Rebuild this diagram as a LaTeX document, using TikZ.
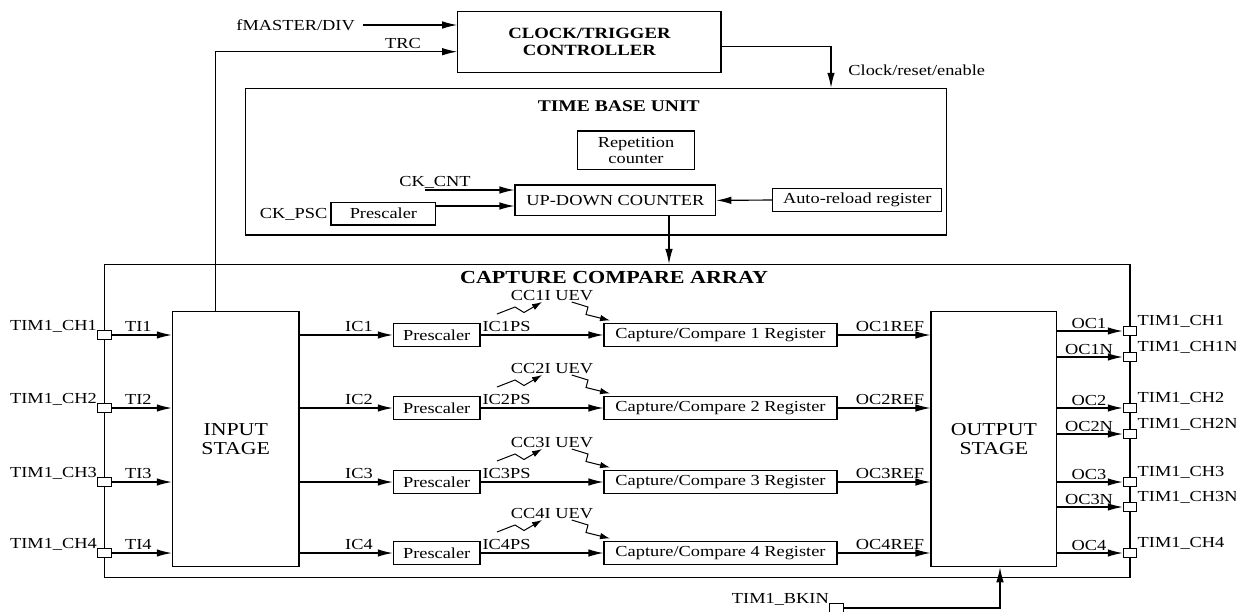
\documentclass[tikz,border=0pt]{standalone}
\usepackage{fontspec}
\setmainfont{Liberation Serif}
\newfontfamily\wide{Liberation Serif}[FakeStretch=1.2]
\usetikzlibrary{arrows.meta}
\begin{document}
\begin{tikzpicture}[x=1pt,y=-1pt,
  every node/.style={font=\wide\fontsize{15.3}{16}\selectfont, inner sep=0pt},
  box/.style={draw, line width=1.15pt, align=center},
  conn/.style={line width=1.15pt, -{Latex[length=15pt,width=7.5pt]}},
  sq/.style={line width=1pt, -{Latex[length=10pt,width=6.5pt]}},
  pinbox/.style={draw, line width=1pt, fill=white, minimum width=13.5pt, minimum height=9.5pt}]
\useasboundingbox (0,0) rectangle (1236,611);

% clock / trigger controller
\node[box, minimum width=263.3pt, minimum height=60.6pt, font=\wide\bfseries\fontsize{15.6}{17}\selectfont] (ctrl) at (589.4,42) {CLOCK/TRIGGER\\CONTROLLER};
\node[anchor=east] (fm) at (355,25) {fMASTER/DIV};
\draw[conn] ([xshift=8pt]fm.east) -- (fm.east -| ctrl.west);
\node (trc) at (403,43.3) {TRC};
\node (cre) at (916.7,70) {Clock/reset/enable};

% time base unit
\node[box, minimum width=701pt, minimum height=146.7pt] (tbu) at (596.2,161.7) {};
\node[font=\wide\bfseries\fontsize{16.3}{17}\selectfont] (tbut) at (618.8,106) {TIME BASE UNIT};
\draw[conn] (ctrl.east |- 0,46.7) -| (831,0 |- tbu.north);
\node[box, minimum width=116.6pt, minimum height=38.3pt] (rep) at (636,150.2) {Repetition\\counter};
\node[box, minimum width=200.7pt, minimum height=30.7pt] (updown) at (615.4,200.4) {UP-DOWN COUNTER};
\node[box, minimum width=104.7pt, minimum height=22.7pt] (tbpsc) at (383.4,213.7) {Prescaler};
\node[box, minimum width=169pt, minimum height=23.4pt] (arr) at (857.2,200) {Auto-reload register};
\node[anchor=east] (ckpsc) at (327.5,214) {CK\_PSC};
\node[anchor=base] (ckcnt) at (435,186) {CK\_CNT};
\coordinate (cnt) at (425,190);
\draw[conn] (cnt) -- (cnt -| updown.west);
\coordinate (psco) at (435.7,206);
\draw[conn] (psco) -- (psco -| updown.west);
\draw[conn] (arr.west) -- (updown.east);

% capture compare array
\node[box, minimum width=1025.7pt, minimum height=313.2pt] (cca) at (617.2,421.1) {};
\node[font=\wide\bfseries\fontsize{18.4}{19}\selectfont] (ccat) at (614,277) {CAPTURE COMPARE ARRAY};
\draw[conn] (669,0 |- updown.south) -- (669,0 |- cca.north);
\node[box, minimum width=126.7pt, minimum height=255pt, font=\wide\fontsize{18.2}{19.5}\selectfont] (instage) at (235.7,439.2) {INPUT\\STAGE};
\node[box, minimum width=125.7pt, minimum height=255pt, font=\wide\fontsize{18.2}{19.5}\selectfont] (outstage) at (993.9,439.2) {OUTPUT\\STAGE};
\draw[conn] (215.7,0 |- instage.north) |- (ctrl.west |- 0,51.7);

\foreach \ch/\r in {1/335,2/408,3/482,4/553}{
  \node[pinbox] (lp\ch) at (104.3,\r) {};
  \node[anchor=base east] at (97,\r-4.8) {TIM1\_CH\ch};
  \draw[conn] (lp\ch.east) -- (lp\ch.east -| instage.west);
  \node[anchor=base] at (138.4,\r-4) {TI\ch};
  \node[box, minimum width=86.7pt, minimum height=22.5pt] (psc\ch) at (436.7,\r) {Prescaler};
  \draw[conn] (instage.east |- psc\ch.west) -- (psc\ch.west);
  \node[anchor=base] at (359,\r-4) {IC\ch};
  \node[box, minimum width=233pt, minimum height=22.5pt] (ccr\ch) at (720.5,\r) {Capture/Compare \ch{} Register};
  \draw[conn] (psc\ch.east) -- (ccr\ch.west);
  \node[anchor=base] at (506.5,\r-4) {IC\ch PS};
  \draw[conn] (ccr\ch.east) -- (ccr\ch.east -| outstage.west);
  \node[anchor=base] at (890,\r-4) {OC\ch REF};
  \draw[sq] (497,\r-21) -- (515,\r-28) -- (524,\r-22.5) -- (542,\r-33);
  \draw[sq] (571.7,\r-33) -- (588,\r-28) -- (586,\r-20.5) -- (610,\r-14.5);
  \node[anchor=base] at (552,\r-34.5) {CC\ch I UEV};
}

\foreach \nm/\y/\oc in {CH1/331/OC1, CH1N/357/OC1N, CH2/408/OC2, CH2N/434/OC2N, CH3/482/OC3, CH3N/507/OC3N, CH4/553/OC4}{
  \node[pinbox] (rp\nm) at (1130,\y) {};
  \node[anchor=base west] at (1137.5,\y-5.5) {TIM1\_\nm};
  \draw[conn] (outstage.east |- rp\nm.west) -- (rp\nm.west);
  \node[anchor=base] at (1089,\y-3) {\oc};
}

\node[pinbox] (bkpin) at (836.5,608) {};
\node[anchor=base east] (bklbl) at (829,603.5) {TIM1\_BKIN};
\draw[conn] (bkpin.east) -| (1000,0 |- outstage.south);
\end{tikzpicture}
\end{document}
